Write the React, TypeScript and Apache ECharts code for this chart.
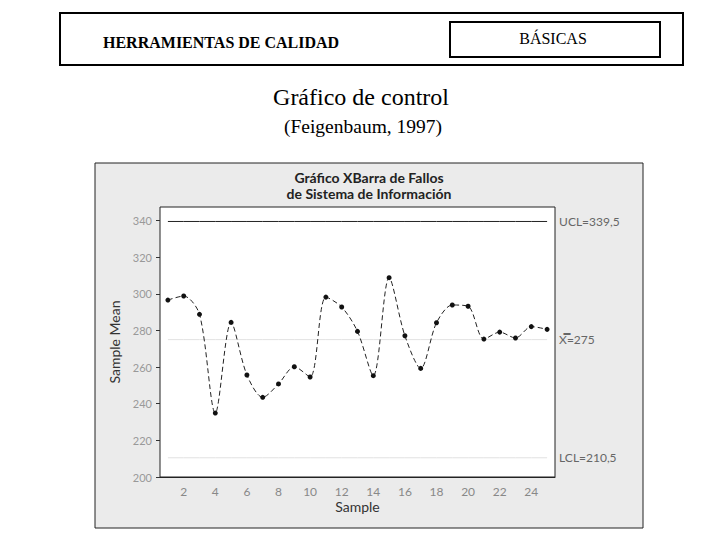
import React, { useEffect, useRef } from "react";
import * as echarts from "echarts";

const samples = ["1","2","3","4","5","6","7","8","9","10","11","12","13","14","15","16","17","18","19","20","21","22","23","24","25"];
const sampleMeans = [296.6, 298.8, 288.8, 234.9, 284.4, 255.7, 243.5, 250.8, 260.2, 254.6, 298.2, 292.8, 279.5, 255.3, 308.8, 277.1, 259.3, 284.2, 293.9, 293.2, 275.3, 279.1, 275.9, 282.1, 280.6];
const UCL = 339.5;
const CL = 275;
const LCL = 210.5;
const yMin = 200;
const yInterval = 20;

const chartFont = "Lato";
const serif = "Liberation Serif";

export default function App() {
  const ref = useRef<HTMLDivElement>(null);
  useEffect(() => {
    document.body.style.margin = "0";
    const chart = echarts.init(ref.current!, null, { renderer: "svg" });
    const flat = (v: number) => samples.map(() => v);
    const controlSeries = (v: number, label: string, color: string, width: number) => ({
      type: "line",
      data: flat(v),
      showSymbol: false,
      symbol: "none",
      silent: true,
      lineStyle: { color, width, type: "solid" },
      z: 1,
      endLabel: {
        show: true,
        formatter: label,
        distance: 12,
        color: "#666",
        fontSize: 12,
        fontFamily: chartFont,
      },
    });
    chart.setOption({
      animation: false,
      backgroundColor: "#ffffff",
      textStyle: { fontFamily: chartFont },
      title: {
        text: "Gráfico XBarra de Fallos\nde Sistema de Información",
        left: 364,
        top: 164,
        textAlign: "center",
        textStyle: { fontSize: 14, fontWeight: "bold", color: "#222", lineHeight: 16, fontFamily: chartFont },
      },
      graphic: [
        { type: "rect", z: -10, shape: { x: 60, y: 13, width: 623, height: 52 }, style: { fill: "#fff", stroke: "#000", lineWidth: 2 } },
        { type: "rect", z: -9, shape: { x: 450, y: 22, width: 210, height: 35 }, style: { fill: "#fff", stroke: "#000", lineWidth: 2 } },
        { type: "text", x: 103, y: 42, style: { text: "HERRAMIENTAS DE CALIDAD", font: `bold 16px "${serif}"`, fill: "#000", textVerticalAlign: "middle" } },
        { type: "text", x: 553, y: 38, style: { text: "BÁSICAS", font: `16px "${serif}"`, fill: "#000", textAlign: "center", textVerticalAlign: "middle" } },
        { type: "text", x: 361, y: 97, style: { text: "Gráfico de control", font: `24px "${serif}"`, fill: "#000", textAlign: "center", textVerticalAlign: "middle" } },
        { type: "text", x: 363, y: 126, style: { text: "(Feigenbaum, 1997)", font: `19.5px "${serif}"`, fill: "#000", textAlign: "center", textVerticalAlign: "middle" } },
        { type: "rect", z: -20, shape: { x: 95, y: 163, width: 548, height: 365 }, style: { fill: "#ebebeb", stroke: "#222", lineWidth: 1 } },
      ],
      grid: {
        left: 160,
        right: 165,
        top: 207,
        bottom: 63,
        show: true,
        backgroundColor: "#ffffff",
        borderColor: "#222",
        borderWidth: 1,
      },
      xAxis: {
        type: "category",
        data: samples,
        boundaryGap: true,
        name: "Sample",
        nameLocation: "middle",
        nameGap: 22,
        nameTextStyle: { fontSize: 14, color: "#333", fontFamily: chartFont },
        axisLine: { lineStyle: { color: "#222" } },
        axisTick: {
          alignWithLabel: true,
          interval: (i: number) => (i + 1) % 2 === 0,
          length: 5,
          lineStyle: { color: "#222" },
        },
        axisLabel: {
          interval: (i: number) => (i + 1) % 2 === 0,
          color: "#888",
          fontSize: 12,
          margin: 8,
        },
        splitLine: { show: false },
      },
      yAxis: {
        type: "value",
        min: yMin,
        max: 347.4,
        interval: yInterval,
        name: "Sample Mean",
        nameLocation: "middle",
        nameGap: 38,
        nameTextStyle: { fontSize: 14, color: "#333", fontFamily: chartFont },
        axisLine: { show: false },
        axisTick: { show: true, length: 4, lineStyle: { color: "#333" } },
        axisLabel: { color: "#999", fontSize: 11, showMaxLabel: false, margin: 8 },
        splitLine: { show: false },
      },
      series: [
        controlSeries(UCL, "UCL=339,5", "#222", 1),
        controlSeries(CL, "X\u033F=275", "#e2e2e2", 1),
        controlSeries(LCL, "LCL=210,5", "#e2e2e2", 1),
        {
          type: "line",
          data: sampleMeans,
          smooth: 0.3,
          symbol: "circle",
          symbolSize: 5,
          itemStyle: { color: "#111" },
          lineStyle: { color: "#222", width: 1, type: [5, 3] },
          z: 3,
        },
      ],
    });
    return () => chart.dispose();
  }, []);
  return <div ref={ref} style={{ width: 720, height: 540 }} />;
}
